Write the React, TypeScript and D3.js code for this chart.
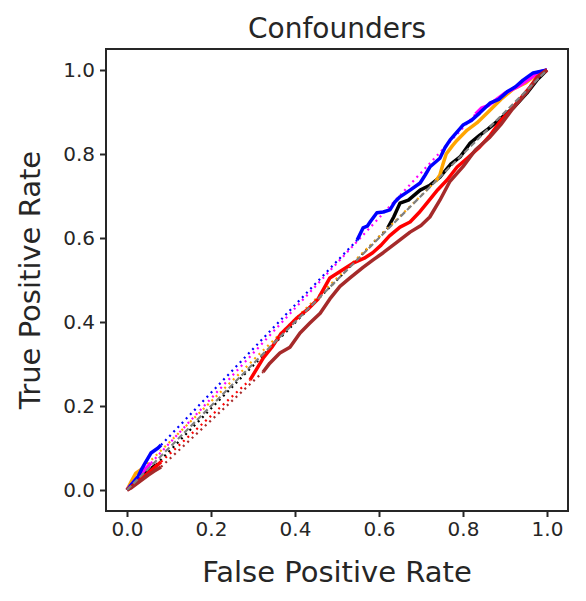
import React, { useEffect, useRef } from "react";
import * as d3 from "d3";

type Pt = [number, number];

// ROC pieces: a short solid start, a dotted gap, then the main solid curve
const blueStart: Pt[] = [[0, 0], [0.01, 0.012], [0.026, 0.031], [0.035, 0.05], [0.043, 0.064], [0.057, 0.088], [0.074, 0.1], [0.081, 0.107]];
const blueMain: Pt[] = [[0.548, 0.595], [0.562, 0.624], [0.572, 0.628], [0.58, 0.64], [0.595, 0.66], [0.61, 0.662], [0.626, 0.667], [0.637, 0.685], [0.65, 0.698], [0.674, 0.714], [0.698, 0.731], [0.71, 0.75], [0.721, 0.769], [0.745, 0.79], [0.757, 0.815], [0.769, 0.833], [0.8, 0.869], [0.82, 0.88], [0.84, 0.898], [0.864, 0.921], [0.885, 0.93], [0.905, 0.948], [0.925, 0.96], [0.943, 0.976], [0.967, 0.993], [1, 1]];

const magentaStart: Pt[] = [[0, 0], [0.03, 0.035], [0.057, 0.064]];
const magentaMain: Pt[] = [[0.83, 0.895], [0.845, 0.91], [0.86, 0.915], [0.88, 0.93], [0.9, 0.945], [0.93, 0.96], [0.96, 0.98], [0.98, 0.995], [1, 1]];

const orangeStart: Pt[] = [[0, 0], [0.01, 0.02], [0.021, 0.04], [0.038, 0.052]];
const orangeMain: Pt[] = [[0.735, 0.735], [0.745, 0.75], [0.752, 0.775], [0.76, 0.8], [0.775, 0.82], [0.786, 0.833], [0.81, 0.857], [0.833, 0.874], [0.86, 0.9], [0.89, 0.93], [0.92, 0.955], [0.95, 0.97], [0.975, 0.99], [1, 1]];

const blackStart: Pt[] = [[0, 0], [0.03, 0.03], [0.069, 0.06]];
const blackMain: Pt[] = [[0.621, 0.624], [0.635, 0.65], [0.65, 0.683], [0.67, 0.69], [0.698, 0.714], [0.72, 0.725], [0.745, 0.745], [0.77, 0.775], [0.793, 0.793], [0.817, 0.826], [0.84, 0.845], [0.86, 0.86], [0.89, 0.885], [0.92, 0.91], [0.952, 0.945], [0.976, 0.976], [1, 1]];

const redStart: Pt[] = [[0, 0], [0.02, 0.015], [0.05, 0.04], [0.081, 0.067]];
const redMain: Pt[] = [[0.293, 0.262], [0.31, 0.29], [0.325, 0.315], [0.345, 0.34], [0.365, 0.37], [0.385, 0.39], [0.405, 0.41], [0.43, 0.43], [0.455, 0.455], [0.483, 0.505], [0.51, 0.522], [0.538, 0.54], [0.565, 0.552], [0.585, 0.565], [0.605, 0.583], [0.625, 0.605], [0.65, 0.626], [0.674, 0.638], [0.695, 0.66], [0.714, 0.683], [0.74, 0.715], [0.762, 0.738], [0.786, 0.769], [0.81, 0.79], [0.84, 0.817], [0.865, 0.845], [0.89, 0.88], [0.91, 0.9], [0.935, 0.93], [0.96, 0.96], [0.976, 0.983], [1, 1]];

const brownStart: Pt[] = [[0, 0], [0.01, 0.005], [0.03, 0.02], [0.05, 0.035], [0.065, 0.045], [0.081, 0.055]];
const brownMain: Pt[] = [[0.324, 0.281], [0.34, 0.302], [0.364, 0.326], [0.388, 0.34], [0.412, 0.374], [0.436, 0.398], [0.46, 0.421], [0.483, 0.455], [0.507, 0.485], [0.531, 0.505], [0.562, 0.53], [0.586, 0.548], [0.61, 0.565], [0.643, 0.59], [0.674, 0.614], [0.7, 0.63], [0.721, 0.65], [0.745, 0.69], [0.769, 0.735], [0.8, 0.77], [0.83, 0.81], [0.864, 0.84], [0.89, 0.87], [0.92, 0.91], [0.95, 0.945], [0.98, 0.985], [1, 1]];

const chance: Pt[] = [[0, 0], [1, 1]];
const ticks = [0, 0.2, 0.4, 0.6, 0.8, 1.0];

const series = [
  { color: "black", start: blackStart, main: blackMain },
  { color: "orange", start: orangeStart, main: orangeMain },
  { color: "magenta", start: magentaStart, main: magentaMain },
  { color: "blue", start: blueStart, main: blueMain },
  { color: "red", start: redStart, main: redMain },
  { color: "brown", start: brownStart, main: brownMain },
];

export default function App() {
  const ref = useRef<SVGSVGElement>(null);

  useEffect(() => {
    const width = 586, height = 601;
    const margin = { left: 106, right: 18, top: 49, bottom: 90 };
    const svg = d3.select(ref.current);
    svg.selectAll("*").remove();

    const x = d3.scaleLinear().domain([-0.05, 1.05]).range([margin.left, width - margin.right]);
    const y = d3.scaleLinear().domain([-0.05, 1.05]).range([height - margin.bottom, margin.top]);
    const line = d3.line<Pt>().x(d => x(d[0])).y(d => y(d[1]));

    const font = "DejaVu Sans";
    const ink = "#262626";

    const g = svg.append("g");

    series.forEach(s => {
      g.append("path").attr("d", line(s.start)).attr("fill", "none")
        .attr("stroke", s.color).attr("stroke-width", 3.5).attr("stroke-linejoin", "round");
      // dotted bridge between start and main curve
      g.append("path").attr("d", line([s.start[s.start.length - 1], s.main[0]])).attr("fill", "none")
        .attr("stroke", s.color).attr("stroke-width", 2.2).attr("stroke-dasharray", "2,4");
      g.append("path").attr("d", line(s.main)).attr("fill", "none")
        .attr("stroke", s.color).attr("stroke-width", 3.5).attr("stroke-linejoin", "round");
    });

    g.append("path").attr("d", line(chance)).attr("fill", "none")
      .attr("stroke", "gray").attr("stroke-width", 2.2).attr("stroke-dasharray", "6,3");

    // axes box
    svg.append("rect")
      .attr("x", margin.left).attr("y", margin.top)
      .attr("width", width - margin.left - margin.right)
      .attr("height", height - margin.top - margin.bottom)
      .attr("fill", "none").attr("stroke", ink).attr("stroke-width", 2);

    const xAxis = d3.axisBottom(x).tickValues(ticks).tickFormat(d3.format(".1f")).tickSize(6).tickPadding(5);
    const yAxis = d3.axisLeft(y).tickValues(ticks).tickFormat(d3.format(".1f")).tickSize(6).tickPadding(5);

    const gx = svg.append("g").attr("transform", `translate(0,${height - margin.bottom})`).call(xAxis);
    const gy = svg.append("g").attr("transform", `translate(${margin.left},0)`).call(yAxis);
    [gx, gy].forEach(a => {
      a.select(".domain").remove();
      a.selectAll("line").attr("stroke", ink).attr("stroke-width", 2);
      a.selectAll("text").attr("font-family", font).attr("font-size", 20).attr("fill", ink);
    });

    svg.append("text").attr("x", (x(0) + x(1)) / 2).attr("y", 38)
      .attr("text-anchor", "middle").attr("font-family", font).attr("font-size", 28).attr("fill", ink)
      .text("Confounders");

    svg.append("text").attr("x", (x(0) + x(1)) / 2).attr("y", 582)
      .attr("text-anchor", "middle").attr("font-family", font).attr("font-size", 29).attr("fill", ink)
      .text("False Positive Rate");

    svg.append("text")
      .attr("transform", `translate(40,${(y(0) + y(1)) / 2}) rotate(-90)`)
      .attr("text-anchor", "middle").attr("font-family", font).attr("font-size", 29).attr("fill", ink)
      .text("True Positive Rate");
  }, []);

  return (
    <svg ref={ref} width={586} height={601}
      style={{ position: "absolute", left: 0, top: 0, background: "white" }} />
  );
}
